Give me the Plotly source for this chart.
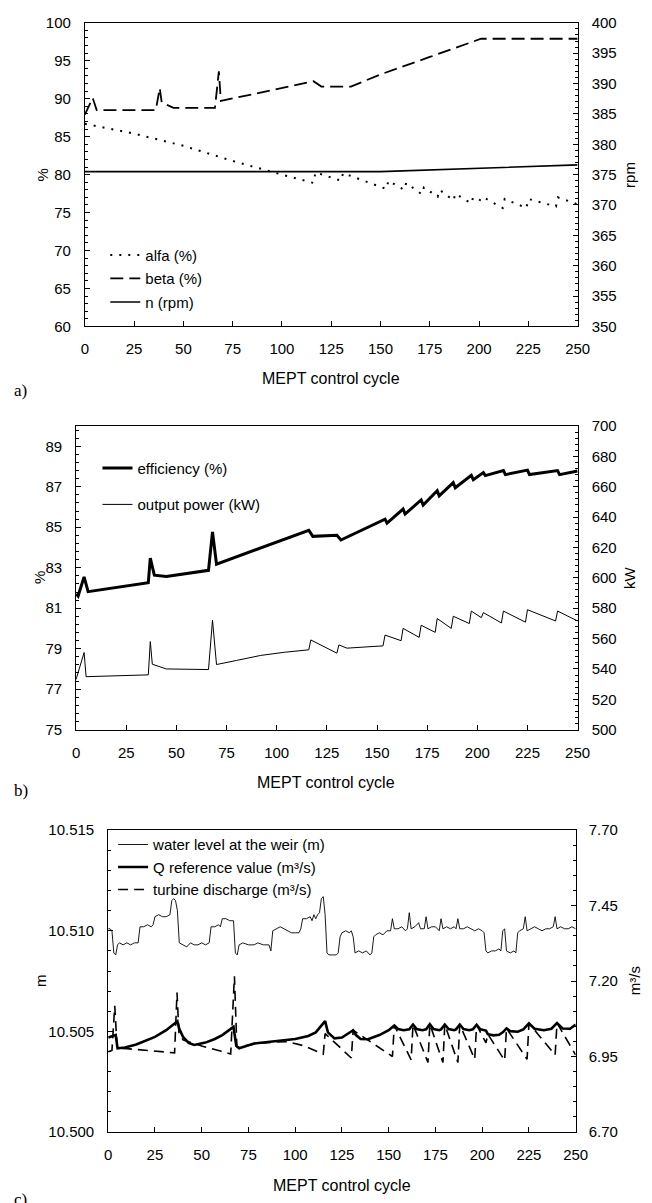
import plotly.graph_objects as go

W, H = 652, 1203
def px(x): return x / W
def py(y): return 1 - y / H

FONT = "Liberation Sans, Arial, sans-serif"
SERIF = "Liberation Serif, Times New Roman, serif"

# ---------------- Panel a ----------------
alfa_x = [0, 25, 50, 75, 100, 116, 117, 130, 131, 133, 153, 154, 162, 163, 171, 172, 179, 180,
          187, 188, 196, 197, 202, 203, 212, 213, 224, 225, 239, 240, 250]
alfa_y = [86.7, 85.4, 83.8, 81.8, 80.0, 78.9, 80.3, 79.2, 80.2, 80.0, 78.1, 79.2, 78.0, 78.9, 77.4, 78.3, 77.1, 78.0,
          76.6, 77.5, 76.2, 77.0, 76.5, 76.9, 75.6, 76.8, 75.6, 76.8, 75.8, 77.0, 76.1]

beta_x = [0, 4, 6, 36, 38, 39, 45, 66, 68, 69, 116, 120, 135, 150, 175, 201, 250]
beta_y = [87.9, 90.1, 88.5, 88.5, 91.4, 89.5, 88.8, 88.8, 93.6, 89.7, 92.3, 91.6, 91.6, 93.2, 95.5, 97.9, 97.9]

n_x = [0, 150, 250]
n_y = [375.5, 375.5, 376.6]

# ---------------- Panel b ----------------
eff_x = [0, 1, 4, 6, 36, 37, 39, 45, 66, 68, 70, 116, 118, 130, 132, 154, 155, 163, 164, 172, 173,
         180, 181, 188, 189, 197, 198, 203, 204, 213, 214, 225, 226, 240, 241, 250]
eff_y = [81.7, 81.6, 82.55, 81.82, 82.26, 83.47, 82.63, 82.57, 82.87, 84.77, 83.18, 84.85, 84.55, 84.6, 84.37,
         85.4, 85.2, 85.9, 85.65, 86.35, 86.1, 86.8, 86.55, 87.2, 86.95, 87.56, 87.35, 87.7, 87.55,
         87.8, 87.6, 87.82, 87.6, 87.8, 87.6, 87.78]

pow_x = [0, 4, 5, 36, 37, 38, 45, 66, 68, 70, 80, 92, 104, 116, 117, 130, 131, 135, 153, 154, 162, 163,
         171, 172, 179, 180, 187, 188, 196, 197, 202, 203, 212, 213, 224, 225, 239, 240, 250]
pow_y = [533.1, 550.8, 534.9, 536.1, 558.0, 543.1, 540.0, 539.6, 572.1, 542.9, 545.6, 548.9, 551.0, 552.6, 559.1,
         550.4, 555.8, 553.7, 555.2, 562.3, 558.6, 566.7, 560.8, 568.8, 564.1, 573.2, 566.7, 574.7,
         569.9, 578.1, 573.8, 577.1, 570.3, 578.1, 570.8, 579.0, 571.6, 578.1, 571.6]

# ---------------- Panel c ----------------
wl_x = [0, 1, 2, 3, 4, 5, 6, 8, 10, 12, 14, 16, 17, 19, 21, 23, 24, 25, 27, 29, 31, 33, 34, 35, 36, 37,
        38, 40, 42, 44, 46, 48, 50, 52, 54, 55, 57, 59, 60, 61, 63, 65, 67, 68, 69, 70, 72, 75, 78, 80,
        83, 86, 87, 88, 90, 92, 94, 96, 98, 100, 102, 103, 104, 106, 108, 109, 110, 111, 112, 113, 114,
        115, 116, 117, 118, 120, 122, 123, 124, 125, 127, 129, 130, 131, 132, 134, 136, 138, 140, 141,
        142, 143, 145, 147, 149, 151, 152, 153, 155, 157, 159, 160, 161, 162, 164, 166, 167, 169, 170,
        171, 173, 175, 177, 178, 179, 181, 183, 185, 186, 187, 188, 190, 192, 194, 196, 198, 200, 201,
        202, 203, 205, 207, 209, 210, 211, 212, 213, 215, 217, 218, 219, 220, 222, 223, 224, 226, 228,
        230, 232, 234, 236, 238, 239, 240, 242, 244, 246, 248, 250]
wl_y = [10.5101, 10.5101, 10.5100, 10.5089, 10.5088, 10.5093, 10.5094, 10.5093, 10.5094, 10.5093,
        10.5094, 10.5094, 10.5102, 10.5102, 10.5103, 10.5102, 10.5103, 10.5107, 10.5108, 10.5107,
        10.5107, 10.5108, 10.5115, 10.5116, 10.5115, 10.5110, 10.5094, 10.5093, 10.5092, 10.5094,
        10.5093, 10.5093, 10.5094, 10.5093, 10.5094, 10.5102, 10.5102, 10.5103, 10.5102, 10.5106,
        10.5106, 10.5105, 10.5105, 10.5089, 10.5088, 10.5093, 10.5094, 10.5093, 10.5093, 10.5094,
        10.5093, 10.5093, 10.5090, 10.5100, 10.5101, 10.5102, 10.5101, 10.5100, 10.5099, 10.5099,
        10.5099, 10.5101, 10.5106, 10.5106, 10.5107, 10.5105, 10.5108, 10.5106, 10.5108, 10.5109,
        10.5116, 10.5117, 10.5108, 10.5089, 10.5088, 10.5088, 10.5088, 10.5089, 10.5097, 10.5099,
        10.5100, 10.5099, 10.5100, 10.5097, 10.5089, 10.5090, 10.5089, 10.5090, 10.5088, 10.5089,
        10.5097, 10.5098, 10.5099, 10.5098, 10.5100, 10.5100, 10.5106, 10.5101, 10.5101, 10.5102,
        10.5100, 10.5101, 10.5109, 10.5101, 10.5102, 10.5104, 10.5101, 10.5101, 10.5107, 10.5101,
        10.5102, 10.5102, 10.5100, 10.5106, 10.5101, 10.5102, 10.5101, 10.5102, 10.5101, 10.5106,
        10.5101, 10.5101, 10.5102, 10.5101, 10.5100, 10.5101, 10.5100, 10.5099, 10.5090, 10.5089,
        10.5090, 10.5090, 10.5091, 10.5090, 10.5100, 10.5101, 10.5090, 10.5089, 10.5090, 10.5089,
        10.5099, 10.5100, 10.5101, 10.5107, 10.5100, 10.5101, 10.5102, 10.5101, 10.5100, 10.5101,
        10.5101, 10.5102, 10.5107, 10.5101, 10.5102, 10.5101, 10.5101, 10.5102, 10.5101]

qref_x = [0, 2, 4, 5, 9, 15, 20, 25, 31, 35, 37, 38, 40, 43, 46, 52, 57, 61, 66, 67, 68.5, 70, 78, 90,
          100, 107, 111, 113, 116, 117.5, 121, 125, 128, 131, 132.5, 135, 139, 145, 150, 153, 155, 158,
          161, 163, 165, 168, 170, 172, 174, 177, 178, 180, 182, 185, 186, 188, 190, 193, 195, 197, 199,
          202, 203, 206, 209, 211, 213, 215, 219, 222, 225, 228, 233, 237, 240, 243, 247, 250]
qref_y = [7.013, 7.017, 7.021, 6.977, 6.980, 6.990, 7.002, 7.015, 7.037, 7.058, 7.067, 7.042, 7.015,
          6.995, 6.988, 6.996, 7.008, 7.021, 7.042, 7.048, 6.985, 6.977, 6.993, 7.002, 7.008, 7.018,
          7.030, 7.045, 7.067, 7.030, 7.010, 7.013, 7.024, 7.037, 7.021, 7.008, 7.007, 7.021, 7.037,
          7.053, 7.041, 7.037, 7.040, 7.056, 7.041, 7.037, 7.040, 7.057, 7.041, 7.037, 7.040, 7.056,
          7.041, 7.037, 7.040, 7.056, 7.041, 7.037, 7.040, 7.055, 7.040, 7.036, 7.024, 7.020, 7.022,
          7.030, 7.043, 7.034, 7.032, 7.040, 7.060, 7.042, 7.037, 7.042, 7.061, 7.043, 7.042, 7.056]

qt_x = [0, 2, 3.5, 4.8, 10, 20, 30, 35.5, 36.8, 37.8, 40, 50, 60, 65.5, 67.5, 68.8, 70, 80, 90, 96, 105,
        115, 116, 130, 131, 152, 153, 162, 163, 171, 172, 179, 180, 187, 188, 196, 197, 202, 203, 212,
        213, 224, 225, 239, 240, 250]
qt_y = [6.966, 6.970, 7.118, 6.977, 6.976, 6.970, 6.965, 6.962, 7.162, 7.030, 7.005, 6.985, 6.968,
        6.958, 7.216, 6.983, 6.982, 6.993, 6.998, 6.999, 6.985, 6.958, 7.026, 6.945, 7.037, 6.950,
        7.053, 6.939, 7.056, 6.930, 7.057, 6.930, 7.056, 6.930, 7.056, 6.941, 7.055, 6.995, 7.024,
        6.937, 7.043, 6.941, 7.060, 6.955, 7.061, 6.955]

x_ticks = [0, 25, 50, 75, 100, 125, 150, 175, 200, 225, 250]

fig = go.Figure()

# panel a
fig.add_trace(go.Scatter(x=alfa_x, y=alfa_y, name="alfa (%)", mode="lines",
                         line=dict(color="black", width=2, dash="2px,7px"),
                         xaxis="x", yaxis="y", legend="legend", legendgroup="a1"))
fig.add_trace(go.Scatter(x=beta_x, y=beta_y, name="beta (%)", mode="lines",
                         line=dict(color="black", width=1.8, dash="13px,6px"),
                         xaxis="x", yaxis="y", legend="legend", legendgroup="a2"))
fig.add_trace(go.Scatter(x=n_x, y=n_y, name="n (rpm)", mode="lines",
                         line=dict(color="black", width=1.6),
                         xaxis="x", yaxis="y2", legend="legend", legendgroup="a3"))
# panel b
fig.add_trace(go.Scatter(x=eff_x, y=eff_y, name="efficiency (%)", mode="lines",
                         line=dict(color="black", width=3),
                         xaxis="x2", yaxis="y3", legend="legend2", legendgroup="b1"))
fig.add_trace(go.Scatter(x=pow_x, y=pow_y, name="output power (kW)", mode="lines",
                         line=dict(color="black", width=1),
                         xaxis="x2", yaxis="y4", legend="legend2", legendgroup="b2"))
# panel c
fig.add_trace(go.Scatter(x=wl_x, y=wl_y, name="water level at the weir (m)", mode="lines",
                         line=dict(color="black", width=0.9),
                         xaxis="x3", yaxis="y5", legend="legend3", legendgroup="c1"))
fig.add_trace(go.Scatter(x=qref_x, y=qref_y, name="Q reference value (m³/s)", mode="lines",
                         line=dict(color="black", width=2.6),
                         xaxis="x3", yaxis="y6", legend="legend3", legendgroup="c2"))
fig.add_trace(go.Scatter(x=qt_x, y=qt_y, name="turbine discharge (m³/s)", mode="lines",
                         line=dict(color="black", width=1.6, dash="10px,6px"),
                         xaxis="x3", yaxis="y6", legend="legend3", legendgroup="c3"))

tickfont = dict(family=FONT, size=15, color="black")

def xax(d0, d1, anchor):
    return dict(domain=[px(d0), px(d1)], anchor=anchor, range=[0, 250], tickvals=x_ticks,
                ticks="inside", ticklen=5, tickcolor="black", showline=True, linecolor="black",
                linewidth=1, mirror=True, showgrid=False, zeroline=False, tickfont=tickfont,
                ticklabelstandoff=9, fixedrange=True)

def yax(y0, y1, rng, dt, mdt, side="left", overlay=None, anchor="x", fmt=None, standoff=10):
    d = dict(range=rng, tick0=rng[0], dtick=dt, ticks="inside", ticklen=5, tickcolor="black",
             showline=True, linecolor="black", linewidth=1, showgrid=False, zeroline=False,
             tickfont=tickfont, side=side, anchor=anchor, ticklabelstandoff=standoff,
             minor=dict(ticks="inside", tick0=rng[0], dtick=mdt, ticklen=3, tickcolor="black", showgrid=False))
    if overlay:
        d["overlaying"] = overlay
    else:
        d["domain"] = [py(y1), py(y0)]
    if fmt:
        d["tickformat"] = fmt
    return d

legfont = dict(family=FONT, size=15, color="black")

fig.update_layout(
    width=W, height=H, autosize=False,
    margin=dict(l=0, r=0, t=0, b=0),
    paper_bgcolor="white", plot_bgcolor="white",
    xaxis=xax(83, 589, "y"),
    yaxis=yax(14, 322, [60, 100], 5, 1, anchor="x"),
    yaxis2=yax(14, 322, [350, 400], 5, 1, side="right", overlay="y", anchor="x"),
    xaxis2=xax(74, 589, "y3"),
    yaxis3=yax(423, 731, [75, 90], 2, 0.4, anchor="x2"),
    yaxis4=yax(423, 731, [500, 700], 20, 4, side="right", overlay="y3", anchor="x2"),
    xaxis3=xax(107, 587, "y5"),
    yaxis5=yax(833, 1139, [10.5, 10.515], 0.005, 0.001, anchor="x3", fmt=".3f"),
    yaxis6=yax(833, 1139, [6.7, 7.7], 0.25, 0.05, side="right", overlay="y5", anchor="x3", fmt=".2f", standoff=9),
    legend=dict(x=px(104), y=py(233), xanchor="left", yanchor="top", bgcolor="rgba(0,0,0,0)",
                borderwidth=0, font=legfont, itemwidth=30, traceorder="grouped", tracegroupgap=1),
    legend2=dict(x=px(96), y=py(449), xanchor="left", yanchor="top", bgcolor="rgba(0,0,0,0)",
                 borderwidth=0, font=legfont, itemwidth=30, traceorder="grouped", tracegroupgap=14),
    legend3=dict(x=px(112), y=py(831), xanchor="left", yanchor="top", bgcolor="rgba(0,0,0,0)",
                 borderwidth=0, font=legfont, itemwidth=30, traceorder="grouped", tracegroupgap=0),
    showlegend=True,
)

def ann(text, x, y, size=15, angle=0, family=FONT, xanchor="center", yanchor="middle"):
    fig.add_annotation(text=text, x=px(x), y=py(y), xref="paper", yref="paper", showarrow=False,
                       textangle=angle, font=dict(family=family, size=size, color="black"),
                       xanchor=xanchor, yanchor=yanchor)

ann("MEPT control cycle", 336, 375, size=16)
ann("MEPT control cycle", 331, 785, size=16)
ann("MEPT control cycle", 347, 1193, size=16)
ann("%", 40, 168, angle=-90)
ann("rpm", 642, 168, angle=-90)
ann("%", 37, 577, angle=-90)
ann("kW", 643, 577, angle=-90)
ann("m", 37, 986, angle=-90)
ann("m³/s", 647, 986, angle=-90)
ann("a)", 8, 387, size=17, family=SERIF, xanchor="left")
ann("b)", 8, 793, size=17, family=SERIF, xanchor="left")
ann("c)", 8, 1196, size=17, family=SERIF, xanchor="left", yanchor="top")

fig.write_html("out.html")
